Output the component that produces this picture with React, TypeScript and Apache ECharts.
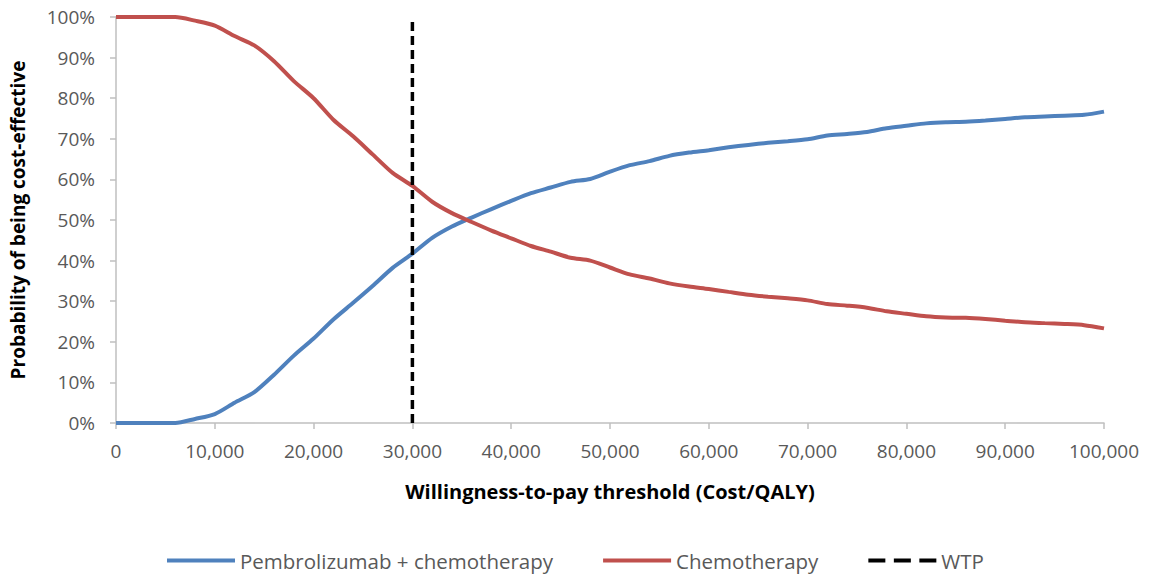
import React, { useEffect, useRef } from "react";
import * as echarts from "echarts";

const thresholds = [
  0, 2000, 4000, 6000, 8000, 10000, 12000, 14000, 16000, 18000, 20000,
  22000, 24000, 26000, 28000, 30000, 32000, 34000, 36000, 38000, 40000,
  42000, 44000, 46000, 48000, 50000, 52000, 54000, 56000, 58000, 60000,
  62000, 64000, 66000, 68000, 70000, 72000, 74000, 76000, 78000, 80000,
  82000, 84000, 86000, 88000, 90000, 92000, 94000, 96000, 98000, 100000,
];

const pembroChemo = [
  0, 0, 0, 0, 1.0, 2.2, 5.0, 7.6, 11.9, 16.6, 20.8,
  25.5, 29.6, 33.8, 38.2, 41.7, 45.6, 48.4, 50.6, 52.7, 54.7,
  56.6, 58.0, 59.4, 60.1, 61.9, 63.5, 64.5, 65.8, 66.6, 67.2,
  67.9, 68.5, 69.0, 69.4, 69.9, 70.8, 71.2, 71.7, 72.6, 73.2,
  73.8, 74.1, 74.2, 74.5, 74.9, 75.3, 75.5, 75.7, 75.9, 76.7,
];

const chemo = [
  100, 100, 100, 100, 99.1, 97.9, 95.3, 93.0, 89.1, 84.2, 80.0,
  74.7, 70.6, 66.1, 61.6, 58.4, 54.5, 51.7, 49.5, 47.4, 45.5,
  43.6, 42.2, 40.7, 40.0, 38.3, 36.6, 35.6, 34.4, 33.6, 33.0,
  32.3, 31.6, 31.1, 30.7, 30.2, 29.3, 28.9, 28.4, 27.5, 26.9,
  26.3, 26.0, 25.9, 25.6, 25.2, 24.8, 24.6, 24.4, 24.1, 23.3,
];

const wtpValue = 30000;
const wtpRange = [0, 100];

const seriesNames = ["Pembrolizumab + chemotherapy", "Chemotherapy", "WTP"];

const FONT = "'Open Sans', 'Liberation Sans', sans-serif";

const solidIcon = "path://M0,0h68v4h-68z";
const dashedIcon = "path://M0,0h17v4h-17z M25.5,0h17v4h-17z M51,0h17v4h-17z";

export default function App() {
  const ref = useRef<HTMLDivElement>(null);

  useEffect(() => {
    if (!ref.current) return;
    const chart = echarts.init(ref.current, undefined, { renderer: "svg" });
    chart.setOption({
      animation: false,
      backgroundColor: "#ffffff",
      textStyle: { fontFamily: FONT },
      grid: { left: 116, right: 49, top: 17, bottom: 153, containLabel: false },
      xAxis: {
        type: "value",
        min: 0,
        max: 100000,
        interval: 10000,
        name: "Willingness-to-pay threshold (Cost/QALY)",
        nameLocation: "middle",
        nameGap: 58,
        nameTextStyle: { fontFamily: FONT, fontSize: 20, fontWeight: "bold", color: "#000000" },
        axisLine: { lineStyle: { color: "#bfbfbf", width: 1.5 } },
        axisTick: { show: true, length: 6, lineStyle: { color: "#bfbfbf", width: 1.5 } },
        splitLine: { show: false },
        axisLabel: {
          fontFamily: FONT,
          fontSize: 19,
          color: "#595959",
          margin: 18,
          formatter: (v: number) => v.toLocaleString("en-US"),
        },
      },
      yAxis: {
        type: "value",
        min: 0,
        max: 100,
        interval: 10,
        name: "Probability of being cost-effective",
        nameLocation: "middle",
        nameGap: 89,
        nameTextStyle: { fontFamily: FONT, fontSize: 19, fontWeight: "bold", color: "#000000" },
        axisLine: { show: true, lineStyle: { color: "#bfbfbf", width: 1.5 } },
        axisTick: { show: true, length: 6, lineStyle: { color: "#bfbfbf", width: 1.5 } },
        splitLine: { show: false },
        axisLabel: {
          fontFamily: FONT,
          fontSize: 19,
          color: "#595959",
          margin: 21,
          formatter: "{value}%",
        },
      },
      legend: {
        left: 162,
        top: 545,
        itemWidth: 68,
        itemHeight: 4,
        itemGap: 50,
        textStyle: { fontFamily: FONT, fontSize: 20.5, color: "#595959" },
        data: [
          { name: seriesNames[0], icon: solidIcon },
          { name: seriesNames[1], icon: solidIcon },
          { name: seriesNames[2], icon: dashedIcon },
        ],
      },
      series: [
        {
          name: seriesNames[0],
          type: "line",
          data: thresholds.map((t, i) => [t, pembroChemo[i]]),
          symbol: "none",
          smooth: 0.25,
          lineStyle: { color: "#4F81BD", width: 4 },
          itemStyle: { color: "#4F81BD" },
        },
        {
          name: seriesNames[1],
          type: "line",
          data: thresholds.map((t, i) => [t, chemo[i]]),
          symbol: "none",
          smooth: 0.25,
          lineStyle: { color: "#C0504D", width: 4 },
          itemStyle: { color: "#C0504D" },
        },
        {
          name: seriesNames[2],
          type: "line",
          data: wtpRange.map((p) => [wtpValue, p]),
          symbol: "none",
          lineStyle: { color: "#000000", width: 3.5, type: [9, 5] },
          itemStyle: { color: "#000000" },
        },
      ],
    });
    return () => chart.dispose();
  }, []);

  return (
    <div
      ref={ref}
      style={{ position: "fixed", left: 0, top: 0, width: 1153, height: 576 }}
    />
  );
}
